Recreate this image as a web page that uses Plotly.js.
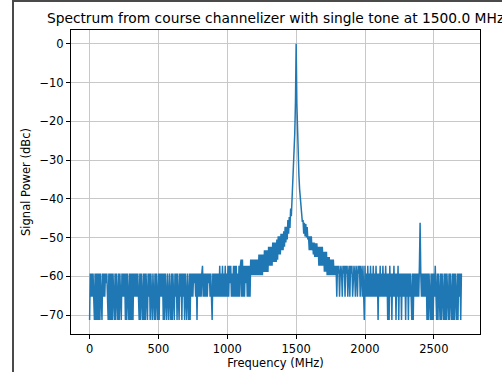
<!DOCTYPE html>
<html>
<head>
<meta charset="utf-8">
<script src="https://cdn.plot.ly/plotly-3.0.1.min.js"></script>
<style>
  html, body { margin: 0; padding: 0; background: #fff; }
  #wrap { position: relative; width: 502px; height: 372px; overflow: hidden; }
  #chart { position: absolute; left: 0; top: 0; width: 502px; height: 372px; }
  #frame { position: absolute; left: 12px; top: 0px; width: 495px; height: 380px;
           border-left: 2px solid #4a4a4a; border-top: 2px solid #4a4a4a; pointer-events: none; z-index: 10; }
</style>
</head>
<body>
<div id="wrap">
  <div id="chart"></div>
  <div id="frame"></div>
</div>
<script>
// Spectrum bins: first bin frequency and bin spacing (MHz)
const freqStartMHz = 0;
const freqStepMHz = 5;

// Signal power per bin (dBc), 0 .. 2700 MHz (10 bins per row = 50 MHz)
const powerDbc = [
  -71.3,-59.3,-65.3,-59.3,-65.3,-59.3,-65.3,-71.3,-59.3,-71.3,
  -59.3,-71.3,-59.3,-71.3,-59.3,-71.3,-59.3,-65.3,-71.3,-59.3,
  -65.3,-59.3,-65.3,-59.3,-61.8,-59.3,-65.3,-71.3,-59.3,-71.3,
  -59.3,-71.3,-59.3,-71.3,-59.3,-65.3,-71.3,-59.3,-71.3,-59.3,
  -65.3,-71.3,-59.3,-71.3,-59.3,-65.3,-71.3,-59.3,-65.3,-59.3,
  -65.3,-59.3,-71.3,-59.3,-71.3,-59.3,-65.3,-71.3,-59.3,-71.3,
  -59.3,-71.3,-59.3,-71.3,-59.3,-65.3,-59.3,-65.3,-59.3,-65.3,
  -59.3,-65.3,-71.3,-59.3,-71.3,-59.3,-65.3,-71.3,-59.3,-71.3,
  -59.3,-71.3,-59.3,-65.3,-71.3,-59.3,-65.3,-59.3,-71.3,-59.3,
  -65.3,-71.3,-59.3,-65.3,-71.3,-59.3,-71.3,-59.3,-65.3,-71.3,
  -59.3,-71.3,-59.3,-65.3,-59.3,-65.3,-59.3,-71.3,-59.3,-71.3,
  -59.3,-65.3,-71.3,-59.3,-65.3,-71.3,-59.3,-65.3,-71.3,-59.3,
  -71.3,-59.3,-65.3,-71.3,-59.3,-65.3,-59.3,-71.3,-59.3,-65.3,
  -71.3,-59.3,-65.3,-59.3,-71.3,-59.3,-65.3,-59.3,-71.3,-59.3,
  -65.3,-71.3,-59.3,-65.3,-71.3,-59.3,-71.3,-59.3,-65.3,-59.3,
  -65.3,-59.3,-61.8,-59.3,-65.3,-59.3,-71.3,-59.3,-65.3,-59.3,
  -65.3,-59.3,-65.3,-59.3,-57.3,-65.3,-59.3,-65.3,-59.3,-65.3,
  -59.3,-65.3,-59.3,-61.8,-59.3,-65.3,-59.3,-65.3,-71.3,-59.3,
  -65.3,-59.3,-65.3,-59.3,-65.3,-59.3,-65.3,-59.3,-65.3,-57.3,
  -65.3,-59.3,-65.3,-57.3,-65.3,-59.3,-65.3,-57.3,-65.3,-59.3,
  -65.3,-57.3,-65.3,-57.3,-61.8,-57.3,-65.3,-59.3,-65.3,-57.3,
  -65.3,-57.3,-65.3,-57.3,-65.3,-59.3,-65.3,-57.3,-65.3,-57.3,
  -55.7,-65.3,-55.7,-65.3,-57.3,-65.3,-57.3,-61.8,-57.3,-65.3,
  -57.3,-65.3,-57.3,-65.3,-55.7,-59.7,-55.7,-59.7,-55.7,-59.7,
  -55.7,-59.7,-55.7,-59.7,-55.7,-59.7,-54.4,-59.7,-54.4,-59.7,
  -54.4,-59.7,-54.4,-58.9,-53.3,-58.9,-53.3,-58.9,-53.3,-58.9,
  -52.4,-57.3,-52.4,-57.3,-52.4,-57.3,-51.3,-56.3,-51.3,-56.3,
  -51.3,-56.3,-50.5,-55.7,-49.7,-54.4,-49.7,-54.4,-49.0,-53.3,
  -49.0,-53.3,-48.4,-52.4,-47.2,-51.3,-47.2,-50.5,-45.5,-49.0,
  -44.7,-47.5,-42.5,-44.5,-40.0,-37.5,-33.5,-29.5,-23.0,-15.0,
    0.0,-15.5,-23.5,-30.0,-34.0,-37.5,-40.0,-42.5,-44.0,-46.0,
  -45.5,-49.0,-46.2,-49.7,-46.5,-50.0,-47.3,-50.5,-49.7,-53.3,
  -49.7,-53.3,-49.7,-53.3,-51.3,-54.4,-51.3,-55.0,-51.5,-55.0,
  -51.5,-55.0,-52.4,-57.3,-52.4,-57.3,-52.4,-57.3,-52.4,-57.3,
  -53.7,-58.8,-53.7,-58.8,-53.7,-59.7,-55.0,-59.7,-55.0,-59.7,
  -55.7,-59.7,-55.7,-59.7,-55.7,-59.7,-57.3,-59.7,-57.3,-65.3,
  -57.3,-59.3,-57.3,-65.3,-59.3,-57.3,-59.3,-65.3,-57.3,-59.3,
  -57.3,-65.3,-57.3,-59.3,-57.3,-65.3,-59.3,-57.3,-65.3,-57.3,
  -59.3,-57.3,-65.3,-59.3,-57.3,-59.3,-65.3,-57.3,-59.3,-65.3,
  -57.3,-59.3,-57.3,-65.3,-57.3,-59.3,-65.3,-57.3,-65.3,-71.3,
  -57.3,-65.3,-59.3,-65.3,-57.3,-65.3,-59.3,-65.3,-57.3,-65.3,
  -59.3,-65.3,-57.3,-65.3,-59.3,-65.3,-57.3,-65.3,-59.3,-71.3,
  -59.3,-65.3,-57.3,-65.3,-59.3,-65.3,-57.3,-65.3,-59.3,-65.3,
  -57.3,-65.3,-59.3,-71.3,-59.3,-71.3,-57.3,-65.3,-59.3,-71.3,
  -59.3,-65.3,-57.3,-65.3,-59.3,-71.3,-59.3,-65.3,-57.3,-71.3,
  -59.3,-65.3,-59.3,-71.3,-59.3,-65.3,-59.3,-65.3,-59.3,-71.3,
  -59.3,-65.3,-59.3,-71.3,-59.3,-65.3,-59.3,-65.3,-71.3,-59.3,
  -71.3,-59.3,-65.3,-59.3,-65.3,-59.3,-65.3,-59.3,-65.3,-57.3,
  -46.2,-59.3,-65.3,-59.3,-65.3,-59.3,-65.3,-59.3,-65.3,-59.3,
  -71.3,-59.3,-71.3,-59.3,-65.3,-71.3,-59.3,-71.3,-59.3,-71.3,
  -59.3,-65.3,-57.3,-65.3,-71.3,-59.3,-71.3,-59.3,-65.3,-71.3,
  -59.3,-71.3,-59.3,-65.3,-71.3,-59.3,-71.3,-59.3,-71.3,-59.3,
  -65.3,-71.3,-59.3,-71.3,-59.3,-65.3,-71.3,-59.3,-71.3,-59.3,
  -71.3,-59.3,-65.3,-71.3,-59.3,-71.3,-59.3,-65.3,-59.3,-71.3,
  -59.3
];

// Tick labels
const xTickVals = [0, 500, 1000, 1500, 2000, 2500];
const yTickVals = [0, -10, -20, -30, -40, -50, -60, -70];

const font = 'DejaVu Sans, sans-serif';

const trace = {
  type: 'scatter',
  mode: 'lines',
  x0: freqStartMHz,
  dx: freqStepMHz,
  y: powerDbc,
  line: { color: '#1f77b4', width: 1.5 },
  hoverinfo: 'skip'
};

const axisCommon = {
  showline: true, mirror: true, linecolor: '#000', linewidth: 1,
  ticks: 'outside', ticklen: 4, tickwidth: 1, tickcolor: '#000',
  showgrid: true, gridcolor: '#c8c8c8', gridwidth: 1,
  zeroline: false,
  tickfont: { family: font, size: 11.5, color: '#000' }
};

const layout = {
  width: 502, height: 372,
  margin: { l: 71, r: 22, t: 30, b: 38 },
  paper_bgcolor: '#fff', plot_bgcolor: '#fff',
  showlegend: false,
  title: {
    text: 'Spectrum from course channelizer with single tone at 1500.0 MHz',
    font: { family: font, size: 13.8, color: '#000' },
    x: 0.5, xref: 'paper', xanchor: 'center',
    y: 1 - 18 / 372, yref: 'container', yanchor: 'middle'
  },
  xaxis: Object.assign({}, axisCommon, {
    range: [-135, 2835],
    tickvals: xTickVals,
    title: { text: 'Frequency (MHz)', font: { family: font, size: 11.5, color: '#000' }, standoff: 3 }
  }),
  yaxis: Object.assign({}, axisCommon, {
    range: [-74.9, 3.57],
    tickvals: yTickVals,
    title: { text: 'Signal Power (dBc)', font: { family: font, size: 11.5, color: '#000' }, standoff: 6 }
  })
};

Plotly.newPlot('chart', [trace], layout, { staticPlot: true, displayModeBar: false });
</script>
</body>
</html>
